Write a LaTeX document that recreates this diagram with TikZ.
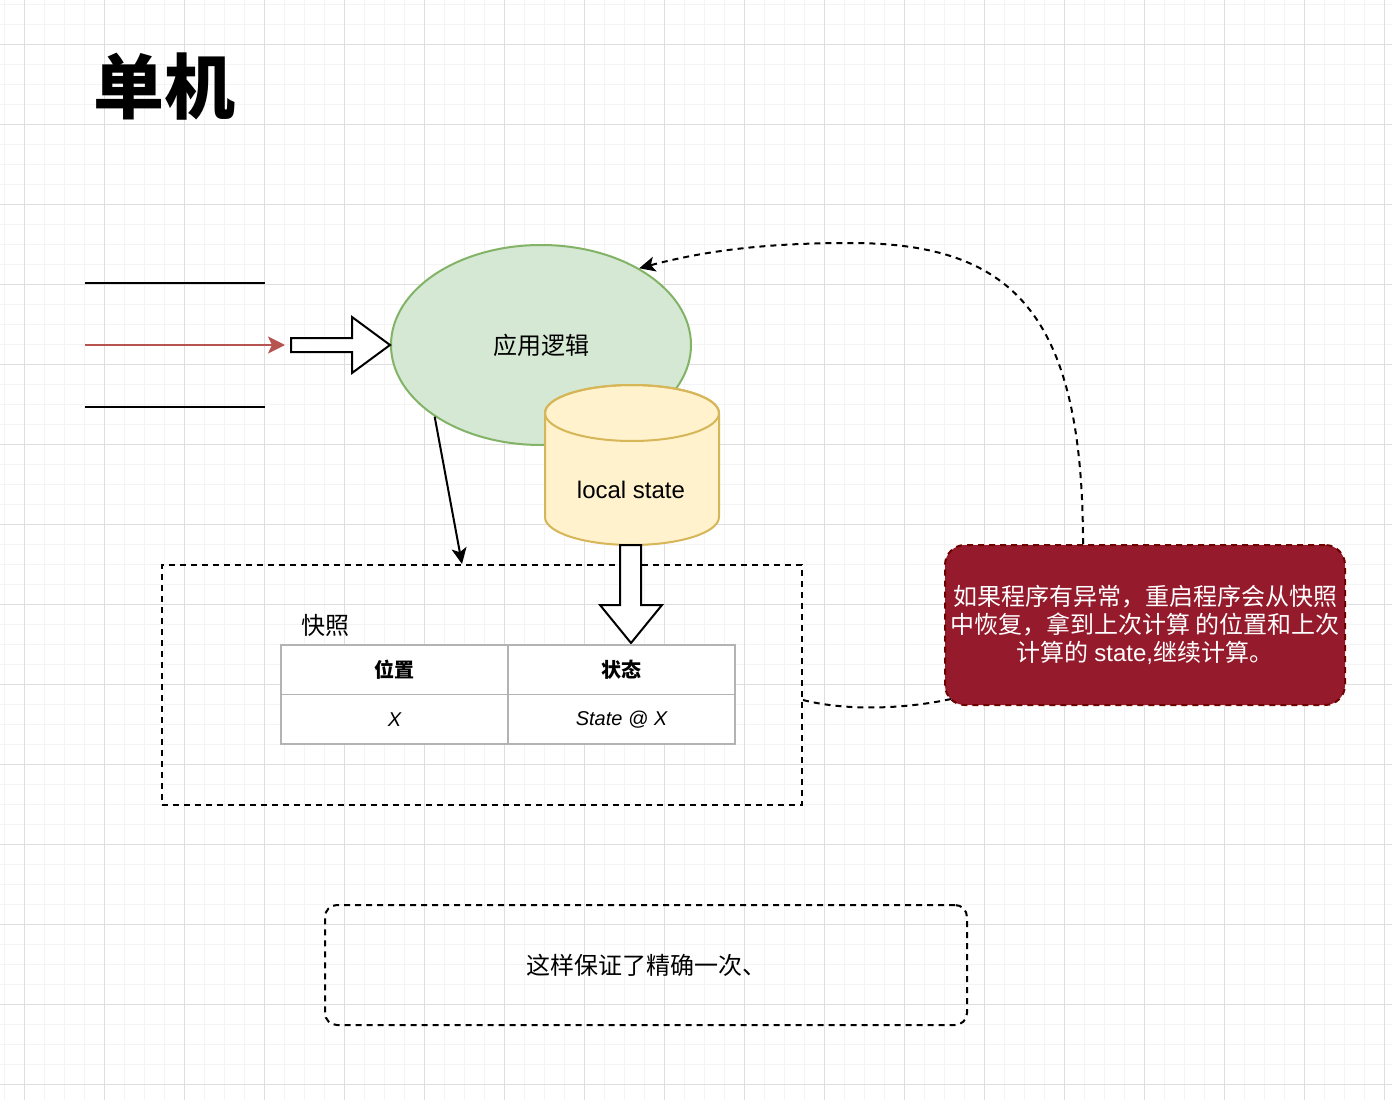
\documentclass[tikz,border=0pt]{standalone}
\usepackage{fontspec}
\setmainfont{Liberation Sans}
\newfontfamily\cjk{Noto Sans CJK SC}
\usetikzlibrary{shapes.geometric,arrows.meta,positioning}
\definecolor{gridminor}{HTML}{F4F4F4}
\definecolor{gridmajor}{HTML}{DEDEDE}
\definecolor{logicfill}{HTML}{D5E8D4}
\definecolor{logicline}{HTML}{82B366}
\definecolor{storefill}{HTML}{FFF2CC}
\definecolor{storeline}{HTML}{D6B656}
\definecolor{inred}{HTML}{B85450}
\definecolor{notefill}{HTML}{951B2C}
\definecolor{noteline}{HTML}{6F0000}
\definecolor{tableline}{HTML}{B3B3B3}

\begin{document}
\begin{tikzpicture}[x=1pt,y=-1pt,
  txt/.style={font=\cjk\fontsize{24}{28}\selectfont},
  dashline/.style={line width=2pt,dash pattern=on 6pt off 5pt},
  tip/.style={-{Stealth[length=16pt,width=15pt,inset=4pt]}},
  block/.style={fill=white,draw=black,line width=2pt,line join=miter},
  cell/.style={draw=tableline,fill=white,line width=1.5pt,minimum width=227pt,
    minimum height=49.5pt,inner sep=0pt,outer sep=0pt,anchor=north west}]
  \fill[white] (0,0) rectangle (1392,1100);
  \useasboundingbox (0,0) rectangle (1392,1100);
  \foreach \x in {4,24,...,1384} \draw[gridminor,line width=1pt] (\x,0) -- (\x,1100);
  \foreach \y in {4,24,...,1096} \draw[gridminor,line width=1pt] (0,\y) -- (1392,\y);
  \foreach \x in {24,104,...,1384} \draw[gridmajor,line width=1pt] (\x,0) -- (\x,1100);
  \foreach \y in {44,124,...,1096} \draw[gridmajor,line width=1pt] (0,\y) -- (1392,\y);

  \node[font=\cjk\bfseries\fontsize{71}{80}\selectfont] (title) at (164,87) {单机};

  \coordinate (topA) at (85,283);
  \coordinate (topB) at (265,283);
  \coordinate (inA) at (85,345);
  \coordinate (inB) at (285,345);
  \coordinate (botA) at (85,407);
  \coordinate (botB) at (265,407);
  \draw[line width=2pt] (topA) -- (topB);
  \draw[line width=2pt] (botA) -- (botB);
  \draw[inred,line width=2pt,-{Stealth[length=17pt,width=17pt,inset=4pt]}] (inA) -- (inB);

  \node[ellipse,fill=logicfill,draw=logicline,line width=2pt,minimum width=300pt,
    minimum height=200pt,inner sep=0pt,txt] (logic) at (541,345) {应用逻辑};
  \draw[block] (291,338) -- (352,338) -- (352,317) -- (390,345) -- (352,373)
    -- (352,352) -- (291,352) -- cycle;

  \filldraw[fill=storefill,draw=storeline,line width=2pt] (545,413) -- (545,517)
    arc[start angle=180,end angle=0,x radius=87,y radius=28] -- (719,413)
    arc[start angle=0,end angle=-180,x radius=87,y radius=28] -- cycle;
  \draw[storeline,line width=2pt] (632,413) ellipse[x radius=87,y radius=28];
  \node[font=\fontsize{24}{28}\selectfont] (store) at (631,490) {local state};

  \node[draw,dashline,minimum width=640pt,minimum height=240pt] (snap) at (482,685) {};
  \draw[line width=2pt,tip] (logic.214) -- ([xshift=-20pt]snap.north);
  \draw[block] (620,545) -- (620,605) -- (600,605) -- (631,643) -- (662,605)
    -- (641,605) -- (641,545) -- cycle;

  \node[txt] (snapLabel) at (325,625) {快照};
  \node[cell,font=\cjk\bfseries\fontsize{20}{24}\selectfont] (posHead) at (281,645) {位置};
  \node[cell,font=\cjk\bfseries\fontsize{20}{24}\selectfont] (stateHead) at (posHead.north east) {状态};
  \node[cell,font=\itshape\fontsize{20}{24}\selectfont] (posCell) at (posHead.south west) {X};
  \node[cell,font=\itshape\fontsize{20}{24}\selectfont] (stateCell) at (posCell.north east) {State @ X};

  \node[fill=notefill,draw=noteline,dashline,rounded corners=20pt,minimum width=400pt,
    minimum height=160pt,text=white,align=center,txt] (note) at (1145,625)
    {如果程序有异常，重启程序会从快照\\中恢复，拿到上次计算 的位置和上次\\计算的 {\rmfamily state,}继续计算。};
  \draw[dashline,tip] ([xshift=-62pt]note.north) .. controls (1083,310) and (1010,243)
    .. (850,243) .. controls (760,243) and (700,252) .. (logic.38);
  \draw[dashline] ([yshift=-15pt]snap.east) .. controls (850,712) and (910,708)
    .. ([shift={(7pt,7pt)}]note.south west);

  \node[draw,dashline,rounded corners=12pt,minimum width=642pt,minimum height=120pt,
    txt] (summary) at (646,965) {这样保证了精确一次、};
\end{tikzpicture}
\end{document}
